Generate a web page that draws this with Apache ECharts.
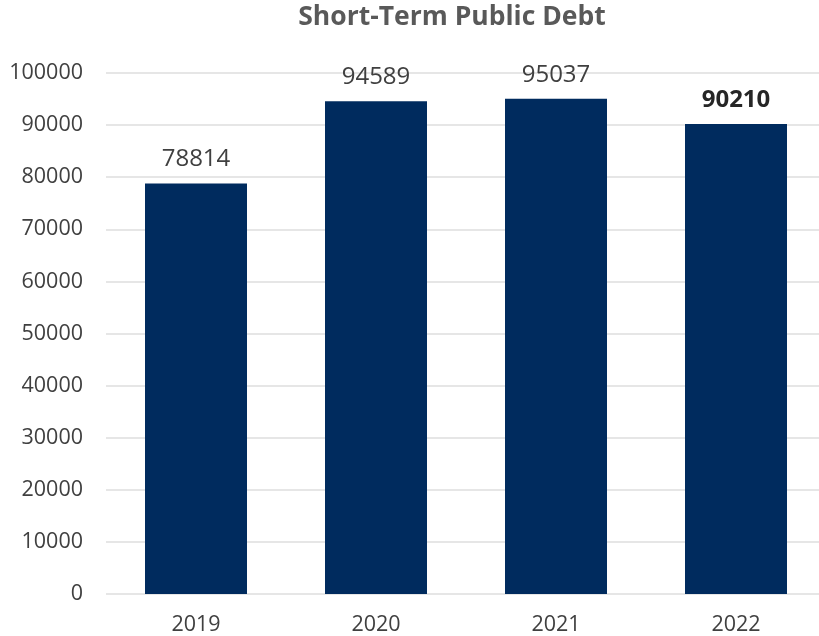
<!DOCTYPE html>
<html>
<head>
<meta charset="utf-8">
<script src="https://cdn.jsdelivr.net/npm/echarts@6/dist/echarts.min.js"></script>
<style>
  html, body { margin: 0; padding: 0; background: #fff; overflow: hidden; }
  /* the plot's last band runs a few pixels past the visible edge */
  #chart { width: 826px; height: 636px; }
</style>
</head>
<body>
<div id="chart"></div>
<script>
// Short-term public debt by year
const years = ['2019', '2020', '2021', '2022'];
const debt = [78814, 94589, 95037, 90210];
const yTicks = [0, 10000, 20000, 30000, 40000, 50000, 60000, 70000, 80000, 90000, 100000];

const FONT = '"Open Sans", "Noto Sans", sans-serif';
const lastIndex = debt.length - 1;

const chart = echarts.init(document.getElementById('chart'), null, { renderer: 'canvas' });
chart.setOption({
  animation: false,
  backgroundColor: '#ffffff',
  title: {
    text: 'Short-Term Public Debt',
    left: 447,
    textAlign: 'center',
    top: -1,
    textStyle: { fontFamily: FONT, fontSize: 26.5, fontWeight: 'bold', color: '#595959' }
  },
  grid: { left: 106, right: 0, top: 73, bottom: 42, containLabel: false },
  xAxis: {
    type: 'category',
    data: years,
    axisLine: { show: false },
    axisTick: { show: false },
    axisLabel: { margin: 20, fontFamily: FONT, fontSize: 21.5, color: '#404040' }
  },
  yAxis: {
    type: 'value',
    min: yTicks[0],
    max: yTicks[yTicks.length - 1],
    interval: yTicks[1] - yTicks[0],
    axisLine: { show: false },
    axisTick: { show: false },
    axisLabel: {
      margin: 23,
      fontFamily: FONT,
      fontSize: 21.5,
      color: '#404040',
      formatter: (v) => String(v)
    },
    splitLine: { lineStyle: { color: '#e6e6e6', width: 2 } }
  },
  series: [{
    type: 'bar',
    data: debt.map((v, i) => ({
      value: v,
      label: i === lastIndex ? { fontWeight: 'bold', color: '#262626' } : undefined
    })),
    barWidth: 102,
    itemStyle: { color: '#002b5e' },
    label: {
      show: true,
      position: 'top',
      distance: 12,
      fontFamily: FONT,
      fontSize: 24,
      color: '#404040'
    }
  }]
});
</script>
</body>
</html>
